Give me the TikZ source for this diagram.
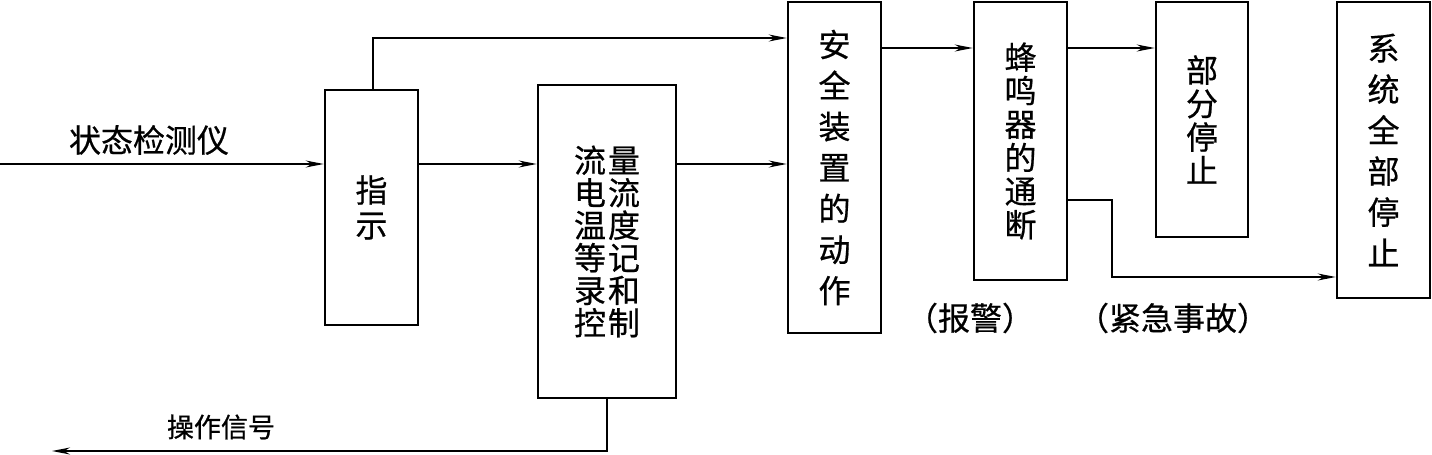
\documentclass[tikz,border=0pt]{standalone}
\usepackage{fontspec}
\newfontfamily\cjk[FakeBold=0.6]{Noto Sans CJK SC}
\usetikzlibrary{arrows.meta}
\newcommand{\cf}[2]{\cjk\fontsize{#1}{#2}\selectfont\lineskiplimit=-100pt\relax}
\tikzset{
 blk/.style={draw, line width=2.6pt, inner sep=0pt, align=center},
 conn/.style={line width=1.3pt, -{Stealth[length=18pt,width=7pt]}},
 lbl/.style={inner sep=0pt, font=\cf{32}{36}},
}
\begin{document}
\begin{tikzpicture}[x=1pt,y=-1pt]
\useasboundingbox (0,0) rectangle (1432,455);
\node[blk, minimum width=93pt, minimum height=235pt, font=\cf{32}{35}] (zs) at (371.5,207.5) {指\\示};
\node[blk, minimum width=138pt, minimum height=313pt, font=\cf{32}{32.5}] (ll) at (607,241.5) {流\hspace{2pt}量\\电\hspace{2pt}流\\温\hspace{2pt}度\\等\hspace{2pt}记\\录\hspace{2pt}和\\控\hspace{2pt}制};
\node[blk, minimum width=93pt, minimum height=331pt, font=\cf{32}{41}] (aq) at (834.5,167.5) {安\\全\\装\\置\\的\\动\\作};
\node[blk, minimum width=93pt, minimum height=278pt, font=\cf{32}{33.5}] (fm) at (1020.5,141) {蜂\\鸣\\器\\的\\通\\断};
\node[blk, minimum width=92pt, minimum height=235pt, font=\cf{32}{33.5}] (bf) at (1202,119.5) {部\\分\\停\\止};
\node[blk, minimum width=93pt, minimum height=296pt, font=\cf{32}{41}] (xt) at (1383.5,150) {系\\统\\全\\部\\停\\止};
% labels
\node[lbl] (l1) at (149,140) {状态检测仪};
\node[lbl, font=\cf{27}{30}] (l2) at (221,427) {操作信号};
\node[lbl] (l3) at (970,318) {（报警）};
\node[lbl] (l4) at (1173,318) {（紧急事故）};
% connectors
\coordinate (in) at (0,164);
\coordinate (t1) at (373,38);
\coordinate (r1) at (0,48);
\coordinate (r2) at (1112,200);
\coordinate (r3) at (1112,277);
\coordinate (out) at (52,451);
\draw[conn] (in) -- (zs.west |- in);
\draw[conn] (zs.east |- in) -- (ll.west |- in);
\draw[conn] (ll.east |- in) -- (aq.west |- in);
\draw[conn] (zs.north -| t1) -- (t1) -- (aq.west |- t1);
\draw[conn] (aq.east |- r1) -- (fm.west |- r1);
\draw[conn] (fm.east |- r1) -- (bf.west |- r1);
\draw[conn] (fm.east |- r2) -- (r2) -- (r3) -- (xt.west |- r3);
\draw[conn] (ll.south) -- (ll.south |- out) -- (out);
\end{tikzpicture}
\end{document}
